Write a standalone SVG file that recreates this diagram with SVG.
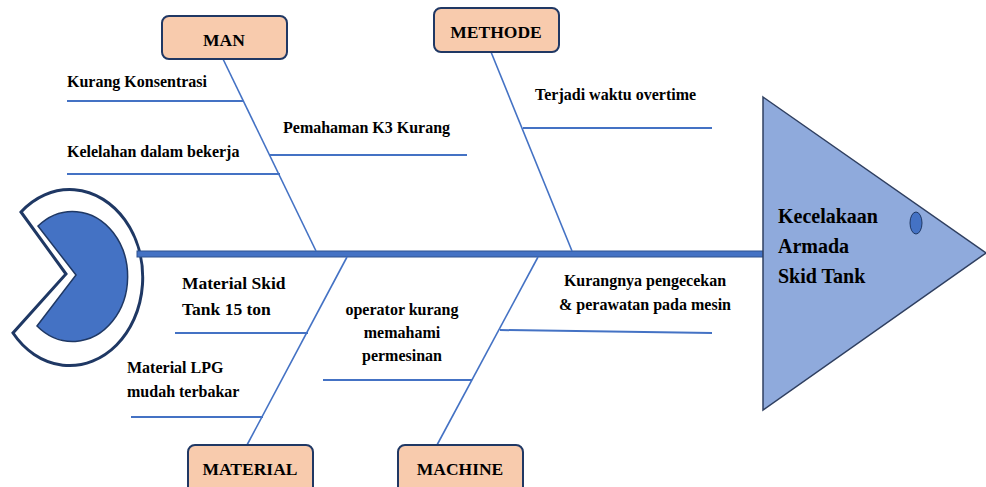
<svg xmlns="http://www.w3.org/2000/svg" width="986" height="487" viewBox="0 0 986 487">
<style>
text{font-family:"Liberation Serif","Times New Roman",serif;font-weight:bold;fill:#000}
.lbl{font-size:16px}
.cat{font-size:17.5px;text-anchor:middle}
.box{fill:#f8cbad;stroke:#203864;stroke-width:2}
.bone{stroke:#4472c4;stroke-width:1.6;fill:none}
.sub{stroke:#4472c4;stroke-width:2;fill:none}
</style>
<rect width="986" height="487" fill="#fff"/>
<g id="tail">
<path d="M 66,274 L 21,212 A 73 88 0 1 1 13,333 Z" fill="#fff" stroke="#1f3864" stroke-width="3" stroke-linejoin="miter"/>
<path d="M 76,275 L 38,226 A 55 65 0 1 1 37,326 Z" fill="#4472c4" stroke="#1f3864" stroke-width="1.5"/>
</g>
<g id="connectors">
<rect x="137" y="251" width="627" height="6" fill="#4472c4" stroke="#2f528f" stroke-width="1"/>
<line class="bone" x1="223" y1="59" x2="316" y2="251"/>
<line class="bone" x1="491" y1="52" x2="572" y2="251"/>
<line class="bone" x1="247" y1="445" x2="347" y2="257"/>
<line class="bone" x1="437" y1="445" x2="538" y2="257"/>
<line class="sub" x1="67" y1="101" x2="243" y2="101"/>
<line class="sub" x1="67" y1="174" x2="280" y2="174"/>
<line class="sub" x1="270" y1="155" x2="467" y2="155"/>
<line class="sub" x1="523" y1="128" x2="712" y2="128"/>
<line class="sub" x1="175" y1="333" x2="308" y2="333"/>
<line class="sub" x1="131" y1="417" x2="263" y2="417"/>
<line class="sub" x1="323" y1="380" x2="472" y2="380"/>
<line class="sub" x1="500" y1="330" x2="712" y2="333"/>
</g>
<g id="head">
<polygon points="763,97 986,253 763,410" fill="#8faadc" stroke="#2f3f60" stroke-width="1.5"/>
<ellipse cx="916" cy="223" rx="6" ry="11" fill="#4472c4" stroke="#1f3864" stroke-width="1"/>
<text x="778" y="223" font-size="20">Kecelakaan</text>
<text x="778" y="253" font-size="20">Armada</text>
<text x="778" y="283" font-size="20">Skid Tank</text>
</g>
<g id="man">
<rect class="box" x="162" y="16" width="125" height="43" rx="7"/>
<text class="cat" x="224" y="46">MAN</text>
</g>
<g id="methode">
<rect class="box" x="434" y="8" width="125" height="44" rx="7"/>
<text class="cat" x="496" y="38">METHODE</text>
</g>
<g id="material">
<rect class="box" x="188" y="445" width="125" height="50" rx="7"/>
<text class="cat" x="250" y="475">MATERIAL</text>
</g>
<g id="machine">
<rect class="box" x="398" y="445" width="125" height="50" rx="7"/>
<text class="cat" x="460" y="475">MACHINE</text>
</g>
<g id="cause-kurang-konsentrasi"><text class="lbl" x="67" y="87">Kurang Konsentrasi</text></g>
<g id="cause-kelelahan"><text class="lbl" x="67" y="157">Kelelahan dalam bekerja</text></g>
<g id="cause-k3"><text class="lbl" x="283" y="133">Pemahaman K3 Kurang</text></g>
<g id="cause-overtime"><text class="lbl" x="535" y="100">Terjadi waktu overtime</text></g>
<g id="cause-skid"><text x="182" y="289" font-size="17.5">Material Skid</text><text x="182" y="315" font-size="17.5">Tank 15 ton</text></g>
<g id="cause-lpg"><text class="lbl" x="127" y="373">Material LPG</text><text class="lbl" x="127" y="397">mudah terbakar</text></g>
<g id="cause-operator"><text class="lbl" x="402" y="315" text-anchor="middle">operator kurang</text><text class="lbl" x="402" y="338" text-anchor="middle">memahami</text><text class="lbl" x="402" y="361" text-anchor="middle">permesinan</text></g>
<g id="cause-pengecekan"><text class="lbl" x="645" y="286" text-anchor="middle">Kurangnya pengecekan</text><text class="lbl" x="645" y="310" text-anchor="middle">&amp; perawatan pada mesin</text></g>
</svg>
